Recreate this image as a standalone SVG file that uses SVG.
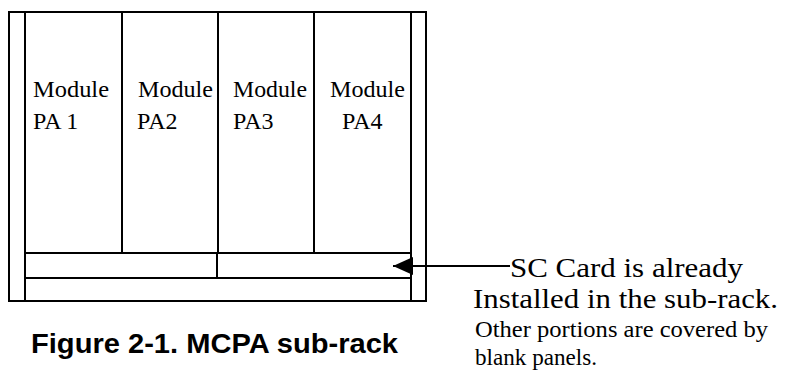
<svg xmlns="http://www.w3.org/2000/svg" width="790" height="377" viewBox="0 0 790 377">
  <style>
    .ln { fill: none; stroke: #000; stroke-width: 2; }
    .mod { font-family: "Liberation Serif", "Times New Roman", serif; font-size: 24px; fill: #000; }
    .note { font-family: "Liberation Serif", "Times New Roman", serif; font-size: 28px; fill: #000; }
    .small { font-family: "Liberation Serif", "Times New Roman", serif; font-size: 23px; fill: #000; }
    .cap { font-family: "Liberation Sans", Arial, sans-serif; font-size: 28px; font-weight: bold; fill: #000; }
  </style>
  <defs>
    <marker id="ah" markerWidth="20" markerHeight="18" refX="20" refY="9" orient="auto" markerUnits="userSpaceOnUse">
      <path d="M0,0 L20,9 L0,18 Z" fill="#000"/>
    </marker>
  </defs>
  <rect width="790" height="377" fill="#fff"/>
  <g id="rack">
    <rect class="ln" x="9" y="12" width="417" height="289"/>
    <line class="ln" x1="25" y1="12" x2="25" y2="301"/>
    <line class="ln" x1="411" y1="12" x2="411" y2="301"/>
  </g>
  <g id="module-pa1">
    <text class="mod" x="33" y="97" textLength="76" lengthAdjust="spacingAndGlyphs">Module</text>
    <text class="mod" x="33" y="129">PA 1</text>
  </g>
  <g id="module-pa2">
    <line class="ln" x1="122" y1="12" x2="122" y2="253"/>
    <text class="mod" x="138" y="97" textLength="75" lengthAdjust="spacingAndGlyphs">Module</text>
    <text class="mod" x="137" y="129">PA2</text>
  </g>
  <g id="module-pa3">
    <line class="ln" x1="218" y1="12" x2="218" y2="253"/>
    <text class="mod" x="233" y="97" textLength="74" lengthAdjust="spacingAndGlyphs">Module</text>
    <text class="mod" x="233" y="129">PA3</text>
  </g>
  <g id="module-pa4">
    <line class="ln" x1="314" y1="12" x2="314" y2="253"/>
    <text class="mod" x="330" y="97" textLength="75" lengthAdjust="spacingAndGlyphs">Module</text>
    <text class="mod" x="342" y="129">PA4</text>
  </g>
  <g id="sc-card">
    <line class="ln" x1="25" y1="253" x2="411" y2="253"/>
    <line class="ln" x1="25" y1="278" x2="411" y2="278"/>
    <line class="ln" x1="217" y1="253" x2="217" y2="278"/>
  </g>
  <g id="caption">
    <text class="cap" x="31" y="353" textLength="367" lengthAdjust="spacingAndGlyphs">Figure 2-1. MCPA sub-rack</text>
  </g>
  <g id="sc-note">
    <text class="note" x="510" y="277" textLength="233" lengthAdjust="spacingAndGlyphs">SC Card is already</text>
    <text class="note" x="473" y="308" textLength="305" lengthAdjust="spacingAndGlyphs">Installed in the sub-rack.</text>
    <text class="small" x="475" y="337" textLength="293" lengthAdjust="spacingAndGlyphs">Other portions are covered by</text>
    <text class="small" x="475" y="365" textLength="122" lengthAdjust="spacingAndGlyphs">blank panels.</text>
  </g>
  <g id="connectors">
    <line class="ln" x1="510" y1="266" x2="393" y2="266" marker-end="url(#ah)"/>
  </g>
</svg>
